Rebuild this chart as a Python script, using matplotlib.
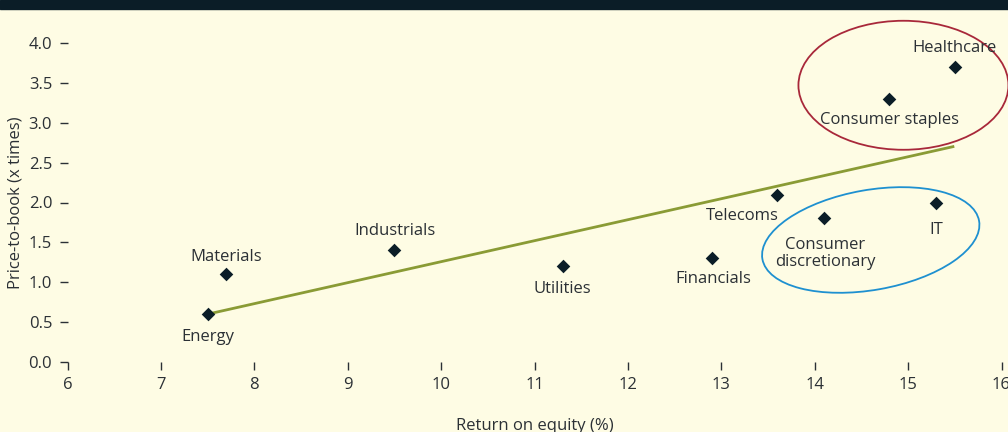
import matplotlib
matplotlib.use("Agg")
import matplotlib.pyplot as plt
from matplotlib.patches import Ellipse, Rectangle
from matplotlib.transforms import ScaledTranslation

# --- dados ---
setores = ["Energy", "Materials", "Industrials", "Utilities", "Financials",
           "Telecoms", "Consumer\ndiscretionary", "IT", "Consumer staples", "Healthcare"]
roe = [7.5, 7.7, 9.5, 11.3, 12.9, 13.6, 14.1, 15.3, 14.8, 15.5]
pb = [0.6, 1.1, 1.4, 1.2, 1.3, 2.1, 1.8, 2.0, 3.3, 3.7]

tendencia_x = [7.5, 15.48]
tendencia_y = [0.6, 2.7]

x_ticks = [6, 7, 8, 9, 10, 11, 12, 13, 14, 15, 16]
y_ticks = [0.0, 0.5, 1.0, 1.5, 2.0, 2.5, 3.0, 3.5, 4.0]

# deslocamento dos rótulos (pixels)
offsets = {
    "Energy": (0, -23),
    "Materials": (0, 17),
    "Industrials": (1, 19),
    "Utilities": (0, -23),
    "Financials": (1, -21),
    "Telecoms": (-35, -21),
    "Consumer\ndiscretionary": (1, -35),
    "IT": (0, -28),
    "Consumer staples": (0, -21),
    "Healthcare": (0, 19),
}

BG = "#fefce4"
TXT = "#2b3035"
plt.rcParams["font.family"] = ["Open Sans", "DejaVu Sans"]

fig = plt.figure(figsize=(10.08, 4.32), dpi=100, facecolor=BG)
ax = fig.add_axes([67.5 / 1008, 70 / 432, 934 / 1008, 319 / 432])
ax.set_facecolor(BG)

# faixa escura do título (cortada)
fig.patches.append(Rectangle((0, 1 - 9 / 432), 1, 9 / 432, transform=fig.transFigure,
                             color="#0b1d27", zorder=0))

ax.plot(tendencia_x, tendencia_y, color="#8a9b35", lw=2.0, zorder=2)
ax.scatter(roe, pb, marker="D", s=48, color="#0b1d27", zorder=3, linewidths=0)

for nome, x, y in zip(setores, roe, pb):
    ax.annotate(nome, (x, y), xytext=offsets[nome], textcoords="offset pixels",
                ha="center", va="center", fontsize=12, color=TXT, linespacing=1.1)

# elipses (tamanho em polegadas, centro em dados)
elipses = [((14.95, 3.47), 2.10, 1.29, 0, "#a8283a"),
           ((14.60, 1.53), 2.20, 1.00, 10, "#1e90d0")]
for (cx, cy), w, h, ang, cor in elipses:
    e = Ellipse((0, 0), w, h, angle=ang, fill=False, edgecolor=cor, lw=1.3,
                transform=fig.dpi_scale_trans + ScaledTranslation(cx, cy, ax.transData),
                clip_on=False, zorder=1)
    ax.add_patch(e)

ax.set_xlim(6, 16)
ax.set_ylim(0, 4)
ax.set_xticks(x_ticks)
ax.set_yticks(y_ticks)
ax.set_yticklabels([f"{v:.1f}" for v in y_ticks])
for s in ax.spines.values():
    s.set_visible(False)
ax.tick_params(axis="both", direction="out", length=6, width=1, color=TXT,
               labelcolor=TXT, labelsize=12, pad=5)

ax.set_xlabel("Return on equity (%)", fontsize=12, color=TXT, labelpad=18)
ax.set_ylabel("Price-to-book (x times)", fontsize=12, color=TXT, labelpad=4)

fig.savefig("out.png", dpi=100, facecolor=BG)
